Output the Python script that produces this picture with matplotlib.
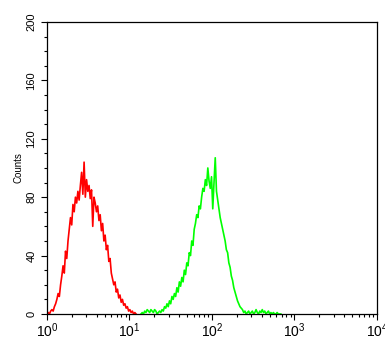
import numpy as np
import matplotlib
matplotlib.use("Agg")
import matplotlib.pyplot as plt
from matplotlib.ticker import LogLocator, MultipleLocator, NullFormatter

plt.rcParams["font.family"] = ["Liberation Sans", "DejaVu Sans"]
plt.rcParams["mathtext.fontset"] = "custom"
plt.rcParams["mathtext.rm"] = "Liberation Sans"
plt.rcParams["mathtext.it"] = "Liberation Sans"

# channel positions (log10 of intensity) and counts
red_start, red_step = 0.0, 0.015
red_counts = [0, 1, 0, 2, 3, 2, 5, 7, 10, 14, 12, 20, 26, 33, 28, 43, 38, 50,
              58, 66, 61, 75, 70, 80, 76, 84, 78, 88, 97, 82, 104, 80, 92, 84,
              88, 79, 85, 60, 80, 76, 70, 74, 64, 68, 57, 62, 50, 54, 44, 47,
              36, 38, 28, 24, 20, 22, 15, 17, 11, 13, 8, 10, 6, 7, 4, 5, 2, 3,
              1, 2, 0, 1, 0]

green_start, green_step = 1.14, 0.015
green_counts = [0, 1, 0, 2, 1, 3, 2, 1, 3, 2, 1, 3, 2, 0, 1, 2, 1, 3, 2, 5, 4,
                7, 5, 9, 7, 12, 10, 14, 12, 18, 15, 22, 19, 25, 22, 30, 27, 35,
                33, 42, 40, 50, 47, 58, 62, 68, 66, 74, 72, 80, 86, 84, 92, 88,
                100, 91, 86, 94, 72, 90, 107, 84, 78, 72, 66, 62, 58, 54, 50,
                44, 42, 35, 32, 26, 23, 18, 15, 12, 9, 7, 5, 4, 3, 1, 2, 0, 1,
                2, 0, 1, 2, 0, 1, 3, 1, 0, 2, 1, 3, 1, 2, 0, 1, 2, 0, 1, 0, 1,
                0, 0, 1, 0, 0, 0]

y_ticks = [0, 40, 80, 120, 160, 200]

red_x = 10 ** (red_start + red_step * np.arange(len(red_counts)))
green_x = 10 ** (green_start + green_step * np.arange(len(green_counts)))

fig = plt.figure(figsize=(3.85, 3.40), dpi=100)
ax = fig.add_axes([0.122, 0.0765, 0.857, 0.859])

ax.plot(red_x, red_counts, color="#ff0000", lw=1.2)
ax.plot(green_x, green_counts, color="#00ff00", lw=1.2)

ax.set_xscale("log")
ax.set_xlim(1, 1e4)
ax.set_ylim(0, 200)

ax.set_yticks(y_ticks)
ax.yaxis.set_minor_locator(MultipleLocator(10))
ax.set_yticklabels([str(v) for v in y_ticks], rotation=90, va="center",
                   fontsize=8)
ax.xaxis.set_major_locator(LogLocator(base=10, numticks=10))
ax.xaxis.set_minor_locator(LogLocator(base=10, subs=np.arange(2, 10),
                                      numticks=10))
ax.xaxis.set_minor_formatter(NullFormatter())
ax.tick_params(axis="x", labelsize=10, pad=1)
ax.tick_params(which="major", length=4, width=0.8)
ax.tick_params(which="minor", length=2.5, width=0.8)

ax.set_ylabel("Counts", fontsize=7, labelpad=2)

for s in ax.spines.values():
    s.set_linewidth(0.9)

fig.savefig("out.png", dpi=100)
